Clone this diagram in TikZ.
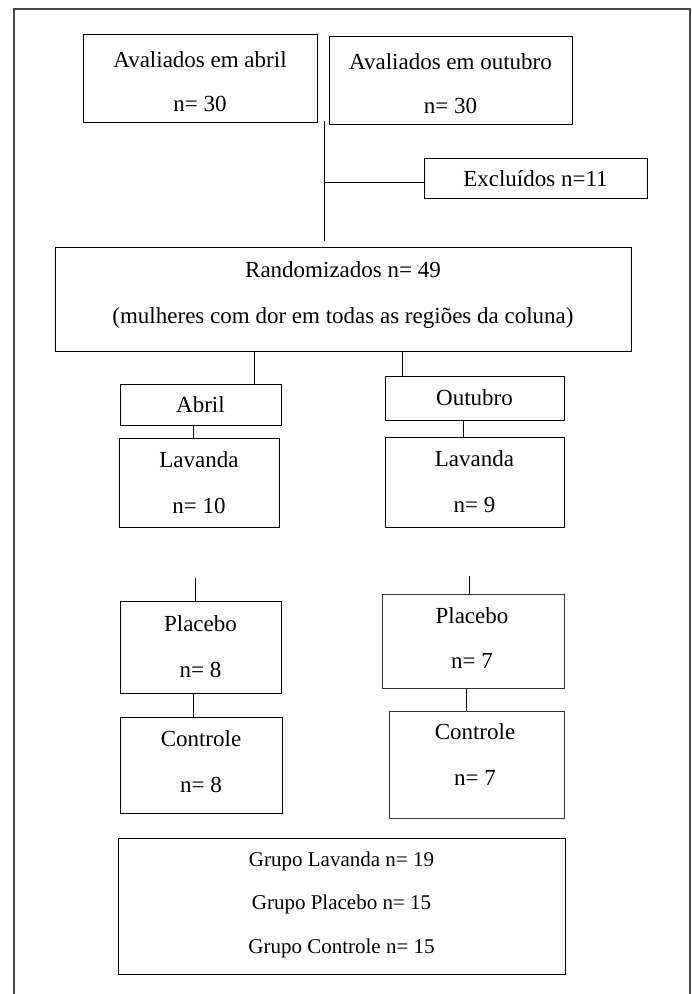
\documentclass[tikz,border=0pt]{standalone}
\usepackage{fontspec}
\setmainfont{Liberation Serif}
\begin{document}
\begin{tikzpicture}[x=1pt,y=-1pt,
  box/.style={draw=black,line width=1.4pt,inner sep=0pt,anchor=north west},
  lbox/.style={draw=black!80,line width=1pt,inner sep=0pt,anchor=north west},
  txt/.style={inner sep=0pt,anchor=base,font=\fontsize{23}{23}\selectfont},
  stxt/.style={inner sep=0pt,anchor=base,font=\fontsize{21}{21}\selectfont},
  conn/.style={draw=black,line width=0.9pt},
  frame/.style={draw=black!72,line width=1.6pt}]
\useasboundingbox (0,0) rectangle (692,994);
% outer frame
\coordinate (f1) at (14,994);
\coordinate (f2) at (14,9);
\coordinate (f3) at (690,9);
\coordinate (f4) at (690,994);
\draw[frame] (f1) -- (f2) -- (f3) -- (f4);
% boxes
\node[box,minimum width=234pt,minimum height=88pt] (abr) at (83,34) {};
\node[box,minimum width=243pt,minimum height=88pt] (out) at (329,36) {};
\node[box,minimum width=223pt,minimum height=40pt] (exc) at (424,158) {};
\node[box,minimum width=576pt,minimum height=104pt] (ran) at (55,247) {};
\node[box,minimum width=161pt,minimum height=41pt] (ga) at (120,384) {};
\node[box,minimum width=179pt,minimum height=44pt] (go) at (385,376) {};
\node[box,minimum width=160pt,minimum height=89pt] (lavl) at (119,438) {};
\node[box,minimum width=179pt,minimum height=90pt] (lavr) at (385,437) {};
\node[box,minimum width=161pt,minimum height=92pt] (plal) at (120,601) {};
\node[box,minimum width=162pt,minimum height=96pt] (conl) at (120,717) {};
\node[lbox,minimum width=182pt,minimum height=94pt] (plar) at (382,594) {};
\node[lbox,minimum width=175pt,minimum height=107pt] (conr) at (389,711) {};
\node[box,minimum width=447pt,minimum height=136pt] (grp) at (118,838) {};
% texts
\node[txt] (t1) at (200,67) {Avaliados em abril};
\node[txt] (t2) at (200,111) {n= 30};
\node[txt] (t3) at (450.5,69.5) {Avaliados em outubro};
\node[txt] (t4) at (450.5,113) {n= 30};
\node[txt] (t5) at (535.5,186) {Excluídos n=11};
\node[txt] (t6) at (343,277) {Randomizados n= 49};
\node[txt] (t7) at (343,323) {(mulheres com dor em todas as regiões da coluna)};
\node[txt] (t8) at (200.5,412) {Abril};
\node[txt] (t9) at (474.5,405) {Outubro};
\node[txt] (t10) at (199,467) {Lavanda};
\node[txt] (t11) at (199,513) {n= 10};
\node[txt] (t12) at (474.5,466) {Lavanda};
\node[txt] (t13) at (474.5,512) {n= 9};
\node[txt] (t14) at (200.5,631) {Placebo};
\node[txt] (t15) at (200.5,677) {n= 8};
\node[txt] (t16) at (201,746) {Controle};
\node[txt] (t17) at (201,792) {n= 8};
\node[txt] (t18) at (472,623) {Placebo};
\node[txt] (t19) at (472,668) {n= 7};
\node[txt] (t20) at (475,739) {Controle};
\node[txt] (t21) at (475,785) {n= 7};
\node[stxt] (t22) at (341.5,866) {Grupo Lavanda n= 19};
\node[stxt] (t23) at (341.5,909) {Grupo Placebo n= 15};
\node[stxt] (t24) at (341.5,953) {Grupo Controle n= 15};
% connectors
\coordinate (vtop) at (324,121);
\coordinate (vbot) at (324,241);
\coordinate (vmid) at (324,182);
\draw[conn] (vtop) -- (vbot);
\draw[conn] (vmid) -- (vmid -| exc.west);
\coordinate (ra) at (254,351);
\coordinate (rb) at (402,351);
\draw[conn] (ra) -- (ra |- ga.north);
\draw[conn] (rb) -- (rb |- go.north);
\coordinate (a1) at (193,425);
\draw[conn] (a1) -- (a1 |- lavl.north);
\coordinate (o1) at (463,420);
\draw[conn] (o1) -- (o1 |- lavr.north);
\coordinate (sl) at (195,578);
\draw[conn] (sl) -- (sl |- plal.north);
\coordinate (sr) at (469,576);
\draw[conn] (sr) -- (sr |- plar.north);
\coordinate (pl) at (193,693);
\draw[conn] (pl) -- (pl |- conl.north);
\coordinate (pr) at (466,688);
\draw[conn] (pr) -- (pr |- conr.north);
\end{tikzpicture}
\end{document}
